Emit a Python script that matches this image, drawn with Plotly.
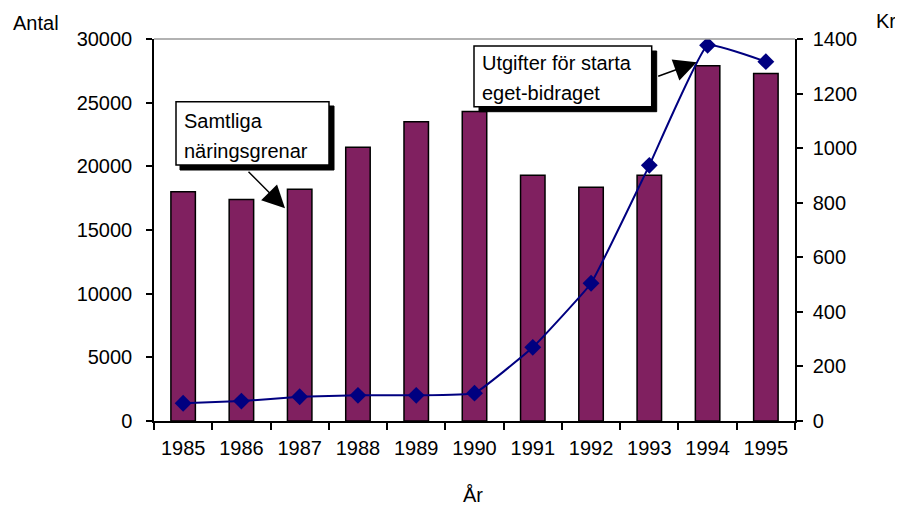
import plotly.graph_objects as go

years = ["1985", "1986", "1987", "1988", "1989", "1990", "1991", "1992", "1993", "1994", "1995"]
antal = [18000, 17400, 18200, 21500, 23500, 24300, 19300, 18350, 19300, 27900, 27300]
kronor = [65, 73, 89, 94, 94, 102, 270, 505, 937, 1377, 1317]

OFF = 8  # page body margin
W, H = 903 - OFF, 506 - OFF
ML, MR, MT, MB = 154 - OFF, 108, 39 - OFF, 85
PW, PH = W - ML - MR, H - MT - MB
FONT = "Liberation Sans, Arial, sans-serif"
FS = 20


def px(x):
    return (x - OFF - ML) / PW


def py(y):
    return (H + OFF - MB - y) / PH


fig = go.Figure()
fig.add_trace(go.Bar(
    x=years, y=antal, name="Samtliga näringsgrenar",
    marker=dict(color="#802060", line=dict(color="black", width=1.5)),
    yaxis="y",
))
fig.add_trace(go.Scatter(
    x=years, y=kronor, name="Utgifter för starta eget-bidraget",
    mode="lines+markers",
    line=dict(color="#000080", width=2, shape="spline", smoothing=0.3),
    marker=dict(symbol="diamond", size=13, color="#000080"),
    yaxis="y2",
))

shapes = [
    dict(type="line", xref="paper", yref="paper", x0=0, x1=1, y0=1, y1=1,
         line=dict(color="#999999", width=1.5)),
    dict(type="rect", xref="paper", yref="paper", x0=px(180), x1=px(334), y0=py(170), y1=py(106),
         fillcolor="black", line=dict(color="black", width=1)),
    dict(type="rect", xref="paper", yref="paper", x0=px(176), x1=px(329), y0=py(165), y1=py(101.7),
         fillcolor="white", line=dict(color="black", width=1.5)),
    dict(type="rect", xref="paper", yref="paper", x0=px(479), x1=px(656.7), y0=py(111.7), y1=py(51),
         fillcolor="black", line=dict(color="black", width=1)),
    dict(type="rect", xref="paper", yref="paper", x0=px(474), x1=px(651.7), y0=py(106.7), y1=py(46),
         fillcolor="white", line=dict(color="black", width=1.5)),
]

tfont = dict(family=FONT, size=FS, color="black")
annotations = [
    dict(text="Antal", x=px(36), y=py(23), xref="paper", yref="paper", showarrow=False,
         xanchor="center", yanchor="middle", font=tfont),
    dict(text="Kr", x=px(886), y=py(21), xref="paper", yref="paper", showarrow=False,
         xanchor="center", yanchor="middle", font=tfont),
    dict(text="År", x=px(473), y=py(495), xref="paper", yref="paper", showarrow=False,
         xanchor="center", yanchor="middle", font=tfont),
    dict(text="Samtliga", x=px(182), y=py(120.7), xref="paper", yref="paper", showarrow=False,
         xanchor="left", yanchor="middle", font=tfont),
    dict(text="näringsgrenar", x=px(182), y=py(150.7), xref="paper", yref="paper", showarrow=False,
         xanchor="left", yanchor="middle", font=tfont),
    dict(text="Utgifter för starta", x=px(480), y=py(63.3), xref="paper", yref="paper", showarrow=False,
         xanchor="left", yanchor="middle", font=tfont),
    dict(text="eget-bidraget", x=px(480), y=py(93.3), xref="paper", yref="paper", showarrow=False,
         xanchor="left", yanchor="middle", font=tfont),
    dict(text="", x=px(285), y=py(208.3), xref="paper", yref="paper", showarrow=True,
         ax=-38, ay=-38, arrowhead=2, arrowsize=3, arrowwidth=1.5, arrowcolor="black"),
    dict(text="", x=px(696.7), y=py(62.3), xref="paper", yref="paper", showarrow=True,
         ax=-40, ay=14.5, arrowhead=2, arrowsize=3, arrowwidth=1.5, arrowcolor="black"),
]

fig.update_layout(
    width=W, height=H,
    margin=dict(l=ML, r=MR, t=MT, b=MB),
    paper_bgcolor="white", plot_bgcolor="white",
    showlegend=False,
    bargap=0.58,
    font=tfont,
    xaxis=dict(type="category", range=[-0.5, 10.5], tickson="boundaries",
               ticks="outside", ticklen=7, tickwidth=1.5, tickcolor="black",
               showline=True, linecolor="black", linewidth=1.5, showgrid=False,
               tickfont=tfont, ticklabelstandoff=8),
    yaxis=dict(range=[0, 30000], dtick=5000, tickformat="d",
               ticks="outside", ticklen=6, tickwidth=1.5, tickcolor="black",
               showline=True, linecolor="black", linewidth=1.5, showgrid=False,
               zeroline=False, tickfont=tfont, ticklabelstandoff=10),
    yaxis2=dict(range=[0, 1400], dtick=200, tickformat="d", overlaying="y", side="right",
                ticks="outside", ticklen=6, tickwidth=1.5, tickcolor="black",
                showline=True, linecolor="black", linewidth=1.5, showgrid=False,
                zeroline=False, tickfont=tfont, ticklabelstandoff=6),
    shapes=shapes,
    annotations=annotations,
)

fig.write_html("out.html")
